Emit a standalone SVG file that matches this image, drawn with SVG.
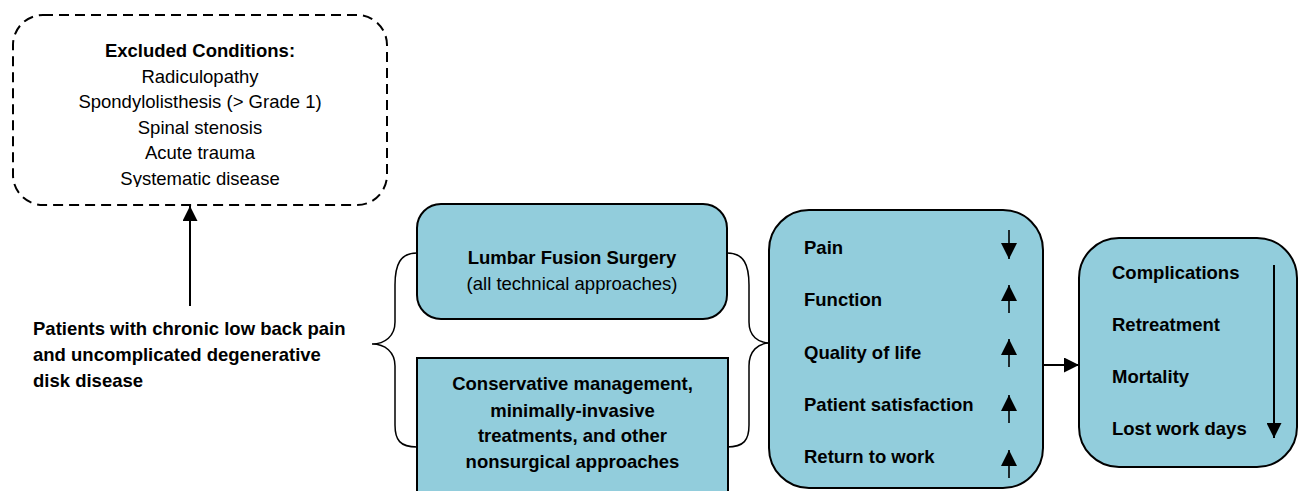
<svg xmlns="http://www.w3.org/2000/svg" width="1298" height="491" viewBox="0 0 1298 491">
<style>
text{font-family:"Liberation Sans",Arial,sans-serif;font-size:18.5px;fill:#000}
.b{font-weight:bold}
.c{text-anchor:middle}
.box{fill:#92CDDC;stroke:#000;stroke-width:2}
.ln{fill:none;stroke:#000;stroke-width:2}
.sa{fill:none;stroke:#000;stroke-width:1.6}
.br{fill:none;stroke:#000;stroke-width:1.5}
</style>
<defs>
<marker id="ah2" viewBox="0 0 10 10" refX="10" refY="5" markerWidth="15" markerHeight="15" markerUnits="userSpaceOnUse" orient="auto">
<path d="M0,0 L10,5 L0,10 Z" fill="#000"/>
</marker>
<marker id="ah3" viewBox="0 0 10 10" refX="10" refY="5" markerWidth="16" markerHeight="16" markerUnits="userSpaceOnUse" orient="auto">
<path d="M0,0 L10,5 L0,10 Z" fill="#000"/>
</marker>
<clipPath id="exclip"><rect x="13" y="15" width="374" height="172"/></clipPath>
</defs>

<g id="excluded">
<rect x="13" y="15" width="374" height="190" rx="30" ry="30" fill="none" stroke="#000" stroke-width="2" stroke-dasharray="10,6"/>
<g clip-path="url(#exclip)">
<text class="b c" x="200" y="57">Excluded Conditions:</text>
<text class="c" x="200" y="83">Radiculopathy</text>
<text class="c" x="200" y="108">Spondylolisthesis (&gt; Grade 1)</text>
<text class="c" x="200" y="134">Spinal stenosis</text>
<text class="c" x="200" y="159">Acute trauma</text>
<text class="c" x="200" y="185">Systematic disease</text>
</g>
</g>

<g id="patients">
<text class="b" x="33" y="335">Patients with chronic low back pain</text>
<text class="b" x="33" y="361">and uncomplicated degenerative</text>
<text class="b" x="33" y="387">disk disease</text>
</g>

<g id="lumbar">
<rect class="box" x="417" y="204" width="310" height="115" rx="24" ry="24"/>
<text class="b c" x="572" y="264">Lumbar Fusion Surgery</text>
<text class="c" x="572" y="290">(all technical approaches)</text>
</g>

<g id="conservative">
<rect class="box" x="417" y="358" width="311" height="150"/>
<text class="b c" x="572.5" y="390">Conservative management,</text>
<text class="b c" x="572.5" y="417">minimally-invasive</text>
<text class="b c" x="572.5" y="442">treatments, and other</text>
<text class="b c" x="572.5" y="468">nonsurgical approaches</text>
</g>

<g id="outcomes">
<rect class="box" x="769" y="210" width="274" height="278" rx="40" ry="40"/>
<text class="b" x="804" y="254">Pain</text>
<text class="b" x="804" y="306">Function</text>
<text class="b" x="804" y="359">Quality of life</text>
<text class="b" x="804" y="411">Patient satisfaction</text>
<text class="b" x="804" y="463">Return to work</text>
</g>

<g id="harms">
<rect class="box" x="1079" y="238" width="218" height="229" rx="40" ry="40"/>
<text class="b" x="1112" y="279">Complications</text>
<text class="b" x="1112" y="331">Retreatment</text>
<text class="b" x="1112" y="383">Mortality</text>
<text class="b" x="1112" y="435">Lost work days</text>
</g>

<g id="connectors">
<line class="ln" x1="190" y1="306" x2="190" y2="206" marker-end="url(#ah2)"/>
<path class="br" d="M417,253 C400,253 395,265 395,285 L395,322 C395,336 385,344 372,344 C385,344 395,352 395,366 L395,425 C395,440 400,447 417,447"/>
<path class="br" d="M727,253 C744,253 749,265 749,285 L749,322 C749,336 758,343 770,343 C758,343 749,351 749,366 L749,425 C749,440 744,447 727,447"/>
<line class="ln" x1="1043" y1="365" x2="1079" y2="365" marker-end="url(#ah2)"/>
<line class="sa" x1="1009" y1="230" x2="1009" y2="259" marker-end="url(#ah3)"/>
<line class="sa" x1="1009" y1="313" x2="1009" y2="285" marker-end="url(#ah3)"/>
<line class="sa" x1="1009" y1="367" x2="1009" y2="339" marker-end="url(#ah3)"/>
<line class="sa" x1="1009" y1="423" x2="1009" y2="395" marker-end="url(#ah3)"/>
<line class="sa" x1="1009" y1="478" x2="1009" y2="450" marker-end="url(#ah3)"/>
<line class="ln" x1="1274" y1="265" x2="1274" y2="438" marker-end="url(#ah2)"/>
</g>
</svg>
